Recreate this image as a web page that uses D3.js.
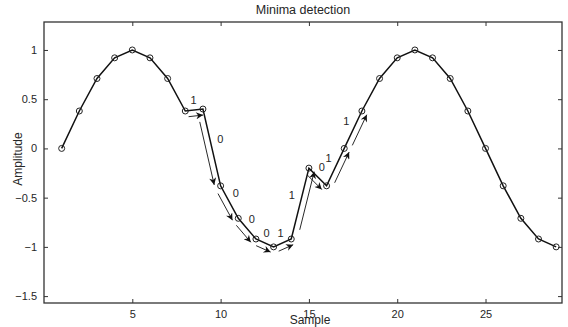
<!DOCTYPE html>
<html>
<head>
<meta charset="utf-8">
<script src="https://cdn.jsdelivr.net/npm/d3@7"></script>
<style>
  body { margin: 0; background: #fff; }
  text { font-family: "Liberation Sans", Arial, sans-serif; fill: #262626; }
</style>
</head>
<body>
<svg id="canvas"></svg>
<script>
// Chart size and the axes box
const width = 568, height = 327;
const box = { left: 44, right: 562, top: 22, bottom: 303 };

// Data
const samples = [1, 2, 3, 4, 5, 6, 7, 8, 9, 10, 11, 12, 13, 14, 15,
                 16, 17, 18, 19, 20, 21, 22, 23, 24, 25, 26, 27, 28, 29];
const amplitude = [0, 0.38, 0.71, 0.92, 1, 0.92, 0.71, 0.38, 0.40, -0.38,
                   -0.71, -0.92, -1, -0.92, -0.20, -0.38, 0, 0.38, 0.71, 0.92,
                   1, 0.92, 0.71, 0.38, 0, -0.38, -0.71, -0.92, -1];

// Detection steps: arrow from sample to the next one, with its bit
const stepFrom = [8, 9, 10, 11, 12, 13, 14, 15, 16, 17];
const stepBit = ["1", "0", "0", "0", "0", "1", "1", "0", "1", "1"];

const xTicks = [5, 10, 15, 20, 25];
const yTicks = [-1.5, -1, -0.5, 0, 0.5, 1];

const svg = d3.select("#canvas")
    .attr("width", width)
    .attr("height", height);

const x = d3.scaleLinear().domain([0, 29.33]).range([box.left, box.right]);
const y = d3.scaleLinear().domain([-1.57, 1.284]).range([box.bottom, box.top]);

const fmt = d => (d < 0 ? "\u2212" + Math.abs(d) : String(d));

// Axes, ticks pointing inwards on all four sides (box on)
const axisColor = "#333";
function styleAxis(g) {
    g.select(".domain").remove();
    g.selectAll("line").attr("stroke", axisColor);
    g.selectAll("text").attr("font-size", 11).attr("fill", "#262626");
}
svg.append("g")
    .attr("transform", `translate(0,${box.bottom})`)
    .call(d3.axisBottom(x).tickValues(xTicks).tickSizeInner(-4).tickSizeOuter(0).tickPadding(7).tickFormat(fmt))
    .call(styleAxis);
svg.append("g")
    .attr("transform", `translate(0,${box.top})`)
    .call(d3.axisTop(x).tickValues(xTicks).tickSizeInner(-4).tickSizeOuter(0).tickFormat(""))
    .call(styleAxis);
svg.append("g")
    .attr("transform", `translate(${box.left},0)`)
    .call(d3.axisLeft(y).tickValues(yTicks).tickSizeInner(-4).tickSizeOuter(0).tickPadding(7).tickFormat(fmt))
    .call(styleAxis);
svg.append("g")
    .attr("transform", `translate(${box.right},0)`)
    .call(d3.axisRight(y).tickValues(yTicks).tickSizeInner(-4).tickSizeOuter(0).tickFormat(""))
    .call(styleAxis);

svg.append("rect")
    .attr("x", box.left).attr("y", box.top)
    .attr("width", box.right - box.left).attr("height", box.bottom - box.top)
    .attr("fill", "none").attr("stroke", axisColor).attr("stroke-width", 1.3);

// Arrow head
svg.append("defs").append("marker")
    .attr("id", "head")
    .attr("viewBox", "0 0 10 10")
    .attr("refX", 10).attr("refY", 5)
    .attr("markerUnits", "userSpaceOnUse")
    .attr("markerWidth", 9).attr("markerHeight", 7)
    .attr("orient", "auto")
    .append("path")
    .attr("d", "M0,0 L10,5 L0,10 L3,5 Z")
    .attr("fill", "#111");

// Signal line and markers
const pts = samples.map((s, i) => ({ s: s, a: amplitude[i] }));
svg.append("path")
    .datum(pts)
    .attr("fill", "none")
    .attr("stroke", "#111")
    .attr("stroke-width", 1.5)
    .attr("d", d3.line().x(d => x(d.s)).y(d => y(d.a)));

svg.selectAll("circle.pt")
    .data(pts)
    .enter()
    .append("circle")
    .attr("class", "pt")
    .attr("cx", d => x(d.s))
    .attr("cy", d => y(d.a))
    .attr("r", 3)
    .attr("fill", "none")
    .attr("stroke", "#222")
    .attr("stroke-width", 1);

// Arrows beside each step and the bit label on the other side
const steps = stepFrom.map((s, i) => {
    const p = [x(s), y(amplitude[samples.indexOf(s)])];
    const q = [x(s + 1), y(amplitude[samples.indexOf(s + 1)])];
    const dx = q[0] - p[0], dy = q[1] - p[1];
    const len = Math.sqrt(dx * dx + dy * dy);
    const ux = dx / len, uy = dy / len;
    const nx = -uy, ny = ux; // normal pointing down on screen
    // label sits above the step, pushed a little towards its upper end
    const shift = -6 * uy;
    return {
        bit: stepBit[i],
        x1: p[0] + ux * len * 0.15 + nx * 6,
        y1: p[1] + uy * len * 0.15 + ny * 6,
        x2: p[0] + ux * len * 0.97 + nx * 6,
        y2: p[1] + uy * len * 0.97 + ny * 6,
        lx: (p[0] + q[0]) / 2 - nx * 10 + ux * shift,
        ly: (p[1] + q[1]) / 2 - ny * 10 + uy * shift
    };
});

svg.selectAll("line.arrow")
    .data(steps)
    .enter()
    .append("line")
    .attr("class", "arrow")
    .attr("x1", d => d.x1).attr("y1", d => d.y1)
    .attr("x2", d => d.x2).attr("y2", d => d.y2)
    .attr("stroke", "#111")
    .attr("stroke-width", 0.9)
    .attr("marker-end", "url(#head)");

svg.selectAll("text.bit")
    .data(steps)
    .enter()
    .append("text")
    .attr("class", "bit")
    .attr("x", d => d.lx)
    .attr("y", d => d.ly)
    .attr("text-anchor", "middle")
    .attr("dominant-baseline", "central")
    .attr("font-size", 11)
    .text(d => d.bit);

// Title and axis labels
svg.append("text")
    .attr("x", (box.left + box.right) / 2)
    .attr("y", 14)
    .attr("text-anchor", "middle")
    .attr("font-size", 12.5)
    .text("Minima detection");

svg.append("text")
    .attr("x", 310)
    .attr("y", 324)
    .attr("text-anchor", "middle")
    .attr("font-size", 12)
    .text("Sample");

svg.append("text")
    .attr("transform", "translate(22,159) rotate(-90)")
    .attr("text-anchor", "middle")
    .attr("font-size", 12)
    .text("Amplitude");
</script>
</body>
</html>
